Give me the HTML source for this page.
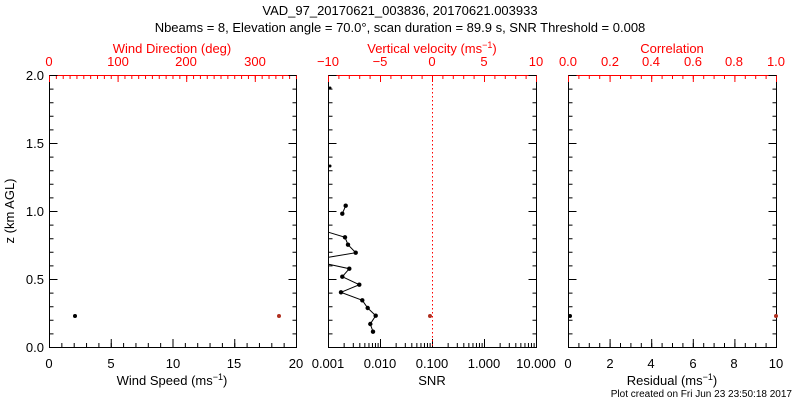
<!DOCTYPE html><html><head><style>body{margin:0;background:#fff}svg{display:block}text{font-family:"Liberation Sans",sans-serif;font-size:13px}.s{font-size:9px}</style></head><body>
<svg width="800" height="400" xmlns="http://www.w3.org/2000/svg">
<g text-anchor="middle">
<text x="400" y="15">VAD_97_20170621_003836, 20170621.003933</text>
<text x="400" y="32">Nbeams = 8, Elevation angle = 70.0°, scan duration = 89.9 s, SNR Threshold = 0.008</text>
</g>
<g fill="none" stroke="#000" stroke-width="1">
<rect x="49.5" y="75.5" width="247" height="272"/>
<rect x="328.5" y="75.5" width="208" height="272"/>
<rect x="568.5" y="75.5" width="208" height="272"/>
</g>
<g stroke="red"><line x1="49" y1="75.5" x2="297" y2="75.5"/><line x1="328" y1="75.5" x2="537" y2="75.5"/><line x1="568" y1="75.5" x2="777" y2="75.5"/></g>
<!-- y ticks -->
<g stroke="#000">
<g stroke-width="4" stroke-dasharray="1 12.6">
<line x1="51.5" y1="75" x2="51.5" y2="348"/><line x1="294.5" y1="75" x2="294.5" y2="348"/>
<line x1="330.5" y1="75" x2="330.5" y2="348"/><line x1="534.5" y1="75" x2="534.5" y2="348"/>
<line x1="570.5" y1="75" x2="570.5" y2="348"/><line x1="774.5" y1="75" x2="774.5" y2="348"/>
</g>
<g stroke-width="8" stroke-dasharray="1 67">
<line x1="53.5" y1="75" x2="53.5" y2="348"/><line x1="292.5" y1="75" x2="292.5" y2="348"/>
<line x1="332.5" y1="75" x2="332.5" y2="348"/><line x1="532.5" y1="75" x2="532.5" y2="348"/>
<line x1="572.5" y1="75" x2="572.5" y2="348"/><line x1="772.5" y1="75" x2="772.5" y2="348"/>
</g>
<!-- bottom x ticks -->
<line x1="49" y1="345" x2="297" y2="345" stroke-width="4" stroke-dasharray="1 11.35"/>
<line x1="49" y1="343" x2="297" y2="343" stroke-width="8" stroke-dasharray="1 60.75"/>
<line x1="328" y1="345" x2="537" y2="345" stroke-width="4" stroke-dasharray="1 14.65 1 8.16 1 5.5 1 4.04 1 3.11 1 2.49 1 2.01 1 1.66 1 1.38"/>
<line x1="328" y1="343" x2="537" y2="343" stroke-width="8" stroke-dasharray="1 51"/>
<line x1="568" y1="345" x2="777" y2="345" stroke-width="4" stroke-dasharray="1 9.4"/>
<line x1="568" y1="343" x2="777" y2="343" stroke-width="8" stroke-dasharray="1 40.6"/>
</g>
<g stroke="red">
<line x1="49" y1="77.5" x2="297" y2="77.5" stroke-width="3" stroke-dasharray="1 5.86"/>
<line x1="49" y1="79" x2="297" y2="79" stroke-width="6" stroke-dasharray="1 67.6"/>
<line x1="328" y1="77.5" x2="537" y2="77.5" stroke-width="3" stroke-dasharray="1 9.4"/>
<line x1="328" y1="79" x2="537" y2="79" stroke-width="6" stroke-dasharray="1 51"/>
<line x1="568" y1="77.5" x2="777" y2="77.5" stroke-width="3" stroke-dasharray="1 9.4"/>
<line x1="568" y1="79" x2="777" y2="79" stroke-width="6" stroke-dasharray="1 40.6"/>
</g>
<line x1="432.5" y1="76" x2="432.5" y2="347" stroke="red" stroke-dasharray="1.5,2.5"/>
<g fill="#000">
<g text-anchor="end"><text x="44" y="80">2.0</text><text x="44" y="148">1.5</text><text x="44" y="216">1.0</text><text x="44" y="284">0.5</text><text x="44" y="352">0.0</text></g>
<text transform="translate(14,211) rotate(-90)" text-anchor="middle">z (km AGL)</text>
<g text-anchor="middle">
<text x="49" y="368">0</text><text x="111" y="368">5</text><text x="173" y="368">10</text><text x="234" y="368">15</text><text x="296" y="368">20</text>
<text x="172" y="385">Wind Speed (ms<tspan dy="-5" class="s">−1</tspan><tspan dy="5">)</tspan></text>
<text x="328" y="368">0.001</text><text x="380" y="368">0.010</text><text x="432" y="368">0.100</text><text x="484" y="368">1.000</text><text x="536" y="368">10.000</text>
<text x="432" y="385">SNR</text>
<text x="568" y="368">0</text><text x="610" y="368">2</text><text x="651" y="368">4</text><text x="693" y="368">6</text><text x="734" y="368">8</text><text x="776" y="368">10</text>
<text x="672" y="385">Residual (ms<tspan dy="-5" class="s">−1</tspan><tspan dy="5">)</tspan></text>
</g>
<text x="792" y="397" text-anchor="end" style="font-size:10px">Plot created on Fri Jun 23 23:50:18 2017</text>
</g>
<g fill="red" text-anchor="middle">
<text x="172" y="53">Wind Direction (deg)</text>
<text x="49" y="66">0</text><text x="118" y="66">100</text><text x="186" y="66">200</text><text x="255" y="66">300</text>
<text x="432" y="53">Vertical velocity (ms<tspan dy="-5" class="s">−1</tspan><tspan dy="5">)</tspan></text>
<text x="328" y="66">−10</text><text x="380" y="66">−5</text><text x="432" y="66">0</text><text x="484" y="66">5</text><text x="536" y="66">10</text>
<text x="672" y="53">Correlation</text>
<text x="568" y="66">0.0</text><text x="610" y="66">0.2</text><text x="651" y="66">0.4</text><text x="693" y="66">0.6</text><text x="734" y="66">0.8</text><text x="776" y="66">1.0</text>
</g>
<polyline fill="none" stroke="#000" points="345.7,205.7 342.3,213.7"/>
<polyline fill="none" stroke="#000" points="328.7,232.3 345,237.3 348,244.7 355.7,252.7 328.7,257.3"/>
<polyline fill="none" stroke="#000" points="328.7,264.3 349.3,268.7 342.3,276.7 359.3,284.7 341,292.3 362.3,300.3 367.7,308 375.7,315.7 370.3,324 373,331.7"/>
<g fill="#000">
<circle cx="345.7" cy="205.7" r="2.2"/><circle cx="342.3" cy="213.7" r="2.2"/><circle cx="345" cy="237.3" r="2.2"/><circle cx="348" cy="244.7" r="2.2"/><circle cx="355.7" cy="252.7" r="2.2"/><circle cx="349.3" cy="268.7" r="2.2"/><circle cx="342.3" cy="276.7" r="2.2"/><circle cx="359.3" cy="284.7" r="2.2"/><circle cx="341" cy="292.3" r="2.2"/><circle cx="362.3" cy="300.3" r="2.2"/><circle cx="367.7" cy="308" r="2.2"/><circle cx="375.7" cy="315.7" r="2.2"/><circle cx="370.3" cy="324" r="2.2"/><circle cx="373" cy="331.7" r="2.2"/>
<circle cx="330" cy="88" r="1.5"/><circle cx="330" cy="166" r="1.5"/>
<circle cx="75" cy="316" r="2"/><circle cx="570" cy="316" r="2"/>
</g>
<g fill="#b03020"><circle cx="279" cy="316" r="2"/><circle cx="430" cy="316" r="2"/><circle cx="776" cy="316" r="2"/></g>
</svg></body></html>
